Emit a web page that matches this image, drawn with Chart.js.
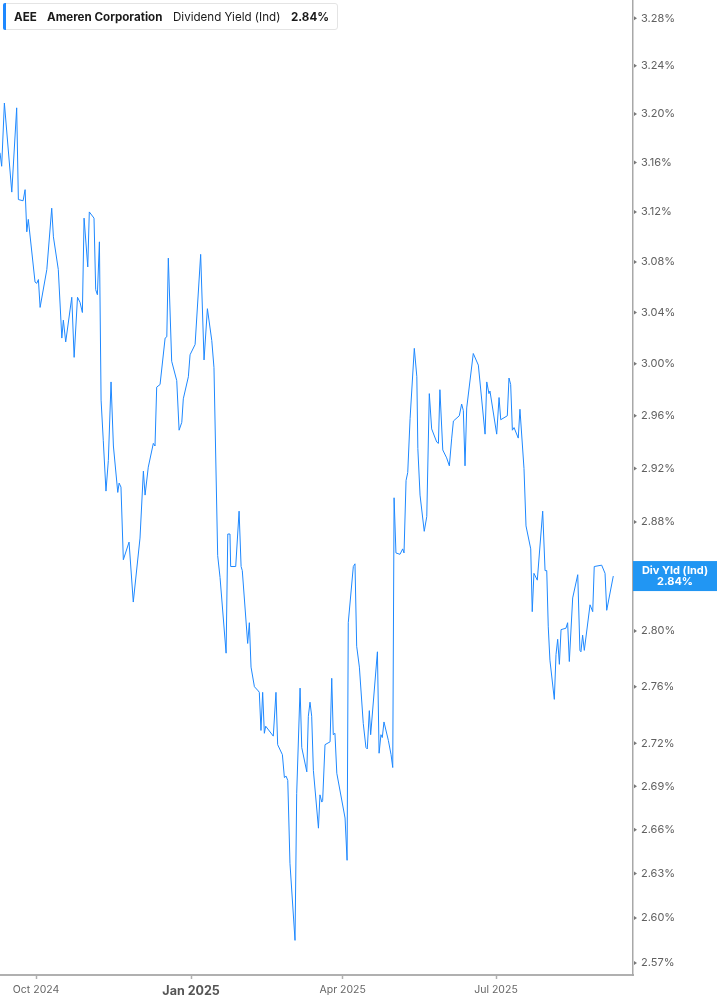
<!DOCTYPE html>
<html>
<head>
<meta charset="utf-8">
<script src="https://cdn.jsdelivr.net/npm/chart.js@4.4.1/dist/chart.umd.min.js"></script>
<style>
  html, body { margin: 0; padding: 0; background: #fff; }
  #wrap { position: relative; width: 717px; height: 1005px; }
  #legend { position: absolute; left: 3px; top: 3px; width: 335px; height: 27px;
    border: 1px solid #e4e4e4; border-radius: 3px; background: rgba(255,255,255,0.92);
    font-family: Inter, "Noto Sans", sans-serif; font-size: 11.6px; color: #1a1a1a; box-sizing: border-box; }
  #legend .bar { position: absolute; left: -1px; top: -1px; bottom: -1px; width: 3px; background: #1e88ff; border-radius: 2px 0 0 2px; }
  #legend span { position: absolute; top: 6px; white-space: nowrap; }
  .b { font-weight: 700; }
</style>
</head>
<body>
<div id="wrap">
  <canvas id="c" width="717" height="1005"></canvas>
  <div id="legend">
    <div class="bar"></div>
    <span class="b" id="lgTicker" style="left:10px"></span>
    <span class="b" id="lgName" style="left:43px"></span>
    <span id="lgMetric" style="left:169px"></span>
    <span class="b" id="lgValue" style="left:287px"></span>
  </div>
</div>
<script>
// ---- Data (days since 2024-10-01, dividend yield in %) ----
const ticker = "AEE";
const companyName = "Ameren Corporation";
const metricName = "Dividend Yield (Ind)";
const boxLabel = "Div Yld (Ind)";

const days = [
  -21.4,-20.4,-18.8,-14.4,-11.5,-10.5,-7.7,-6.5,-5.5,-4.6,
  -0.6,0.4,1.4,2.4,6.4,9.3,10.3,13.2,15.3,16.2,
  17.6,21.2,22.6,24.6,26.1,27.5,28.5,30.7,31.6,34.4,
  35.4,36.4,37.6,38.6,39.9,41.5,42.9,44.5,45.9,48.5,
  49.3,50.4,51.8,55.2,57.7,61.7,63.7,64.7,66.6,69.6,
  70.6,71.6,73.6,76.6,77.6,78.5,80.5,83.5,84.9,86.5,
  87.4,90.4,91.4,94.4,97.7,99.7,101.7,104.3,105.6,107.8,
  109.2,112.8,113.8,115.1,115.5,118.5,120.5,121.7,122.4,125.6,
  126.6,127.6,129.6,131.9,132.5,133.5,134.5,135.5,136.3,140.8,
  142.4,143.4,146.2,147.4,148.4,149.4,150.7,153.7,154.7,156.7,
  157.7,160.7,161.6,162.6,163.6,164.6,167.6,168.5,169.6,170.1,
  171.5,174.5,175.5,176.4,177.4,178.5,183.4,184.6,185.3,188.3,
  189.3,190.3,191.9,194.2,195.8,196.6,197.8,198.6,202.6,203.6,
  204.7,205.5,206.5,209.1,210.7,211.7,212.5,213.6,216.0,217.6,
  218.4,219.6,220.6,222.0,224.5,226.0,226.6,227.9,230.4,231.9,
  233.4,234.8,237.8,238.8,239.7,241.4,243.7,245.3,246.7,247.7,
  251.2,252.6,253.6,254.6,255.6,259.5,262.5,266.5,267.5,268.8,
  269.4,273.4,274.8,275.8,279.7,280.7,281.7,282.7,283.7,286.2,
  287.2,289.6,290.8,293.6,294.5,295.5,297.5,300.7,302.1,303.1,
  304.0,305.0,307.6,308.6,309.6,310.6,311.6,314.5,315.5,316.5,
  318.5,321.5,322.8,323.4,324.4,325.4,328.8,330.4,331.3,335.7,
  337.7,338.7,342.6
];
const yields = [
  3.168,3.157,3.209,3.136,3.205,3.130,3.129,3.138,3.104,3.114,
  3.064,3.063,3.066,3.044,3.074,3.123,3.100,3.074,3.020,3.034,
  3.017,3.052,3.005,3.052,3.048,3.040,3.115,3.076,3.120,3.115,
  3.058,3.054,3.096,2.972,2.941,2.903,2.926,2.986,2.937,2.902,
  2.909,2.906,2.852,2.865,2.821,2.868,2.918,2.900,2.921,2.939,
  2.937,2.982,2.984,3.020,3.021,3.083,3.002,2.987,2.949,2.955,
  2.973,2.990,3.007,3.015,3.086,3.003,3.043,3.018,2.997,2.855,
  2.839,2.784,2.871,2.871,2.847,2.847,2.888,2.847,2.844,2.791,
  2.806,2.774,2.760,2.757,2.756,2.729,2.756,2.727,2.732,2.725,
  2.756,2.719,2.712,2.696,2.697,2.694,2.637,2.585,2.685,2.759,
  2.717,2.700,2.739,2.749,2.739,2.701,2.661,2.684,2.679,2.680,
  2.719,2.721,2.766,2.726,2.727,2.699,2.668,2.639,2.806,2.847,
  2.849,2.789,2.774,2.734,2.717,2.716,2.743,2.726,2.785,2.713,
  2.726,2.724,2.735,2.722,2.712,2.703,2.898,2.857,2.856,2.860,
  2.857,2.911,2.917,2.958,3.012,2.990,2.935,2.900,2.873,2.884,
  2.977,2.950,2.940,2.939,2.980,2.934,2.928,2.922,2.943,2.956,
  2.960,2.969,2.964,2.922,2.966,3.008,2.999,2.946,2.986,2.977,
  2.979,2.946,2.974,2.957,2.960,2.989,2.984,2.949,2.951,2.943,
  2.965,2.920,2.877,2.860,2.814,2.842,2.837,2.888,2.844,2.844,
  2.803,2.779,2.751,2.783,2.794,2.776,2.801,2.802,2.806,2.778,
  2.824,2.841,2.786,2.785,2.797,2.786,2.819,2.814,2.847,2.848,
  2.842,2.815,2.840
];

// x-axis ticks (days since 2024-10-01) and labels
const xTickDays = [0, 92, 182, 273];
const xTickLabels = ["Oct 2024", "Jan 2025", "Apr 2025", "Jul 2025"];
const xBoldTicks = [92];
// y-axis ticks (%)
const yTickValues = [2.57,2.60,2.63,2.66,2.69,2.72,2.76,2.80,2.84,2.88,2.92,2.96,3.00,3.04,3.08,3.12,3.16,3.20,3.24,3.28];
const xRange = [-21.4, 354.3];
const yRange = [2.5620, 3.2955];

// ---- legend ----
const lastVal = yields[yields.length - 1];
document.getElementById('lgTicker').textContent = ticker;
document.getElementById('lgName').textContent = companyName;
document.getElementById('lgMetric').textContent = metricName;
document.getElementById('lgValue').textContent = lastVal.toFixed(2) + '%';

Chart.defaults.font.family = 'Inter, "Noto Sans", sans-serif';

const lineColor = '#1e88ff';
const boxColor = '#2196f3';

const lastValuePlugin = {
  id: 'lastValueBox',
  afterDraw(chart) {
    const { ctx, chartArea, scales } = chart;
    const y = scales.y.getPixelForValue(lastVal);
    const x0 = chartArea.right;
    const w = chart.width - x0;
    ctx.save();
    // small triangular tick markers on the value axis
    ctx.fillStyle = '#777';
    yTickValues.forEach(v => {
      const ty = scales.y.getPixelForValue(v);
      ctx.beginPath();
      ctx.moveTo(x0 + 1, ty - 2);
      ctx.lineTo(x0 + 4, ty);
      ctx.lineTo(x0 + 1, ty + 2);
      ctx.closePath();
      ctx.fill();
    });
    ctx.fillStyle = boxColor;
    ctx.fillRect(x0, y - 15, w, 30);
    ctx.fillStyle = '#fff';
    ctx.font = '700 11px Inter, "Noto Sans", sans-serif';
    ctx.textAlign = 'center';
    ctx.textBaseline = 'middle';
    ctx.fillText(boxLabel, x0 + w / 2, y - 5.5);
    ctx.fillText(lastVal.toFixed(2) + '%', x0 + w / 2, y + 6);
    ctx.restore();
  }
};

new Chart(document.getElementById('c'), {
  type: 'line',
  data: {
    datasets: [{
      data: days.map((d, i) => ({ x: d, y: yields[i] })),
      borderColor: lineColor,
      borderWidth: 1,
      pointRadius: 0,
      tension: 0,
      fill: false
    }]
  },
  options: {
    responsive: false,
    animation: false,
    events: [],
    layout: { padding: 0 },
    plugins: { legend: { display: false }, tooltip: { enabled: false } },
    scales: {
      x: {
        type: 'linear',
        min: xRange[0], max: xRange[1],
        afterBuildTicks(scale) { scale.ticks = xTickDays.map(v => ({ value: v })); },
        afterFit(scale) { scale.height = 30; scale.paddingLeft = 0; scale.paddingRight = 0; },
        grid: { drawOnChartArea: false, drawTicks: true, tickLength: 4, tickColor: '#b0b0b0', tickWidth: 1.5 },
        border: { display: true, color: '#b0b0b0', width: 2 },
        ticks: {
          padding: 5,
          maxRotation: 0,
          autoSkip: false,
          color: (ctx) => xBoldTicks.includes(ctx.tick && ctx.tick.value) ? '#555' : '#666',
          font: (ctx) => xBoldTicks.includes(ctx.tick && ctx.tick.value)
            ? { size: 12.5, weight: '700' } : { size: 10.5, weight: '400' },
          callback: (v) => { const i = xTickDays.indexOf(v); return i >= 0 ? xTickLabels[i] : ''; }
        }
      },
      y: {
        type: 'logarithmic',
        position: 'right',
        min: yRange[0], max: yRange[1],
        afterBuildTicks(scale) { scale.ticks = yTickValues.map(v => ({ value: v })); },
        afterFit(scale) { scale.width = 84; scale.paddingTop = 0; scale.paddingBottom = 0; },
        grid: { drawOnChartArea: false, drawTicks: false },
        border: { display: true, color: '#a8a8a8', width: 1.5 },
        ticks: {
          padding: 8,
          autoSkip: false,
          color: '#606060',
          font: { size: 11 },
          callback: (v) => v.toFixed(2) + '%'
        }
      }
    }
  },
  plugins: [lastValuePlugin]
});
</script>
</body>
</html>
